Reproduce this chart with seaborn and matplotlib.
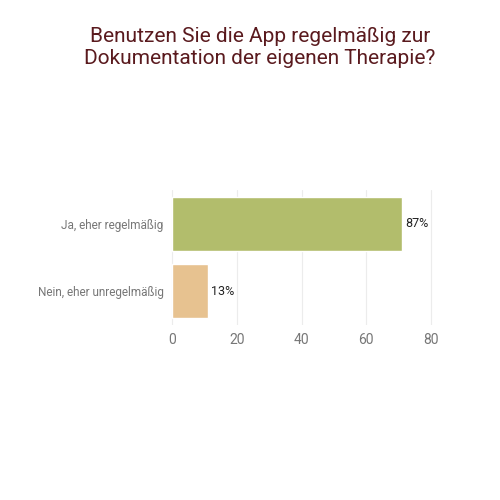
import matplotlib
matplotlib.use("Agg")
import matplotlib.pyplot as plt
import seaborn as sns
import pandas as pd

categories = ["Ja, eher regelmäßig", "Nein, eher unregelmäßig"]
values = [71, 11]
labels = ["87%", "13%"]
colors = ["#bccb5f", "#f5c482"]

sns.set_style("white")
plt.rcParams['font.family'] = ['Roboto', 'DejaVu Sans']

fig = plt.figure(figsize=(5, 5), dpi=100)
ax = fig.add_axes([0.338, 0.35, 0.55, 0.27])
df = pd.DataFrame({"cat": categories, "val": values})
sns.barplot(data=df, y="cat", x="val", hue="cat", palette=colors, legend=False,
            ax=ax, width=0.8, orient="h")
ax.set_xlim(-1, 84)
ax.set_xticks([0, 20, 40, 60, 80])
ax.grid(axis="x", color="#ececec", linewidth=0.8)
ax.set_axisbelow(True)
for s in ax.spines.values():
    s.set_visible(False)
ax.set_xlabel("")
ax.set_ylabel("")
ax.tick_params(axis="x", colors="#777777", labelsize=10, length=0, pad=6)
ax.tick_params(axis="y", colors="#777777", labelsize=8.5, length=0, pad=4)
for i, (v, l) in enumerate(zip(values, labels)):
    ax.text(v + 1, i, l, va="center", ha="left", fontsize=9, color="#222222")
fig.text(0.52, 0.905, "Benutzen Sie die App regelmäßig zur\nDokumentation der eigenen Therapie?",
         ha="center", va="center", fontsize=15, color="#5a1a1e", linespacing=1.25)
fig.savefig("out.png", dpi=100, facecolor="white")
